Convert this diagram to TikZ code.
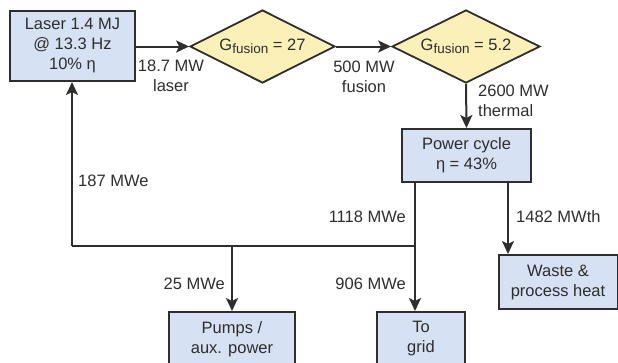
\documentclass[tikz,border=0pt]{standalone}
\usepackage{fontspec}
\setmainfont{Liberation Sans}
\usetikzlibrary{shapes.geometric,arrows.meta,calc}
\definecolor{boxblue}{HTML}{D6E1F3}
\definecolor{diayellow}{HTML}{FAF0B8}
\definecolor{ink}{HTML}{2E2E2E}
\tikzset{
  every node/.style={font=\fontsize{16.5}{20}\selectfont, text=ink},
  bluebox/.style={draw=ink, line width=2pt, fill=boxblue, align=center, inner sep=0pt},
  gdia/.style={diamond, draw=ink, line width=1.8pt, fill=diayellow, inner sep=0pt, minimum height=73pt},
  flow/.style={draw=ink, line width=2pt, -{Stealth[length=13pt,width=12pt,inset=3pt]}},
  plain/.style={draw=ink, line width=2pt},
  lbl/.style={align=center, inner sep=0pt},
}
\newcommand{\Gf}[1]{G\raisebox{-0.35ex}{\fontsize{13.5}{13.5}\selectfont fusion} = #1}
\begin{document}
\begin{tikzpicture}[x=1pt,y=-1pt]
\useasboundingbox (0,0) rectangle (618,362);
\clip (0,0) rectangle (618,362);
% nodes
\node[bluebox, minimum width=125pt, minimum height=70pt] (laser) at (72.5,46) {Laser 1.4 MJ\\@ 13.3 Hz\\10\% η};
\node[gdia, minimum width=145pt] (d1) at (262.5,46.5) {\makebox[0pt]{\Gf{27}}};
\node[gdia, minimum width=148pt] (d2) at (466,46.5) {\makebox[0pt]{\Gf{5.2}}};
\node[bluebox, minimum width=129pt, minimum height=53pt] (pc) at (466.5,155.5) {Power cycle\\η = 43\%};
\node[bluebox, minimum width=119pt, minimum height=54pt] (waste) at (558,282) {Waste \&\\process heat};
\node[bluebox, minimum width=88pt, minimum height=54pt] (grid) at (421,339) {To\\grid};
\node[bluebox, minimum width=126pt, minimum height=54pt] (pumps) at (232,339) {Pumps /\\aux. power};
% coordinates
\coordinate (pcl) at (415,182);
\coordinate (pcr) at (508,182);
\coordinate (j) at (415,246);
\coordinate (pj) at (232,246);
\coordinate (corner) at (72,246);
% connectors
\draw[flow] (laser.east |- d1.west) -- (d1.west);
\draw[flow] (d1.east) -- (d2.west);
\draw[flow] (d2.south) -- (pc.north);
\draw[flow] (pcl) -- (pcl |- grid.north);
\draw[flow] (pcr) -- (pcr |- waste.north);
\draw[plain] (j) -- (corner);
\draw[flow] (corner) -- (corner |- laser.south);
\draw[flow] (pj) -- (pumps.north);
% labels
\node[lbl] (l1) at (171,76) {18.7 MW\\laser};
\node[lbl] (l2) at (364,77) {500 MW\\fusion};
\node[lbl, align=left, anchor=west] (l3) at (478,101) {2600 MW\\thermal};
\node[lbl, anchor=west] (l4) at (78,181) {187 MWe};
\node[lbl, anchor=east] (l5) at (406,217) {1118 MWe};
\node[lbl, anchor=west] (l6) at (516,217) {1482 MWth};
\node[lbl, anchor=east] (l7) at (406,284) {906 MWe};
\node[lbl, anchor=east] (l8) at (225,284) {25 MWe};
\end{tikzpicture}
\end{document}
